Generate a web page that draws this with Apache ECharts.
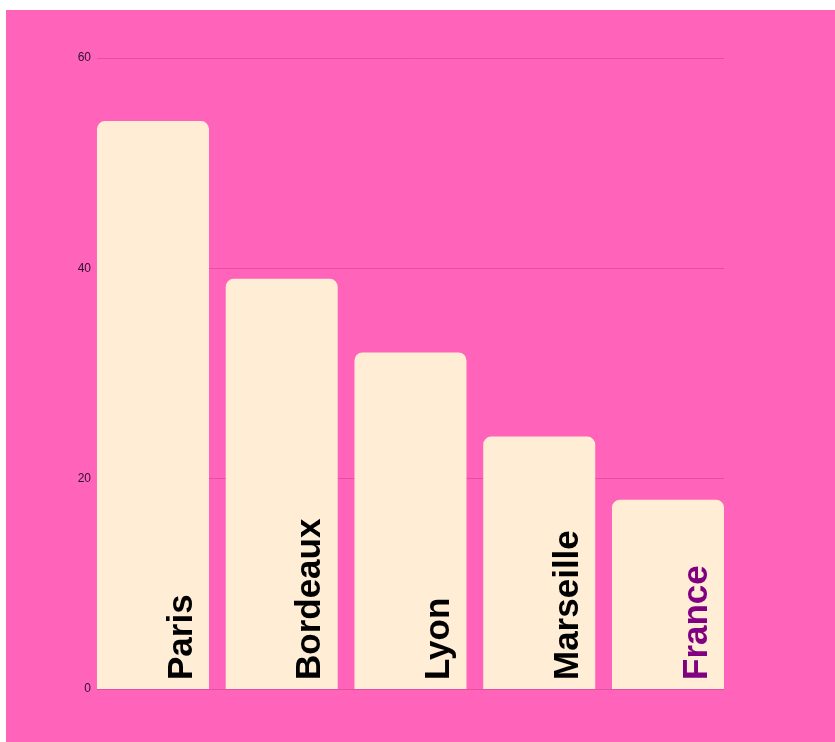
<!DOCTYPE html>
<html>
<head>
<meta charset="utf-8">
<script src="https://cdn.jsdelivr.net/npm/echarts@6/dist/echarts.min.js"></script>
<style>
html,body{margin:0;padding:0;background:#fff;}
#chart{position:absolute;left:6px;top:10px;width:829px;height:732px;}
</style>
</head>
<body>
<div id="chart"></div>
<script>
const categories = ['Paris', 'Bordeaux', 'Lyon', 'Marseille', 'France'];
const values = [54, 39, 32, 24, 18];
const labelColors = ['#000000', '#000000', '#000000', '#000000', '#800080'];
const yTicks = [0, 20, 40, 60];

const chart = echarts.init(document.getElementById('chart'));
chart.setOption({
  backgroundColor: '#FF63BA',
  animation: false,
  grid: [
    {left: 82.6, width: 643.75, top: 48, height: 631},
    {left: 91, width: 627, top: 48, height: 631}
  ],
  xAxis: [
    {type: 'category', gridIndex: 0, data: categories, show: false},
    {type: 'value', gridIndex: 1, show: false}
  ],
  yAxis: [
    {type: 'value', gridIndex: 0, min: 0, max: 60, show: false},
    {type: 'value', gridIndex: 1, min: yTicks[0], max: yTicks[yTicks.length - 1], interval: 20,
     axisLine: {show: false}, axisTick: {show: false},
     axisLabel: {color: '#2a1030', fontSize: 12, fontFamily: 'Liberation Sans, Arial, sans-serif', margin: 6},
     splitLine: {lineStyle: {color: 'rgba(120,0,60,0.2)', width: 1}}}
  ],
  series: [{
    type: 'bar',
    xAxisIndex: 0,
    yAxisIndex: 0,
    barWidth: 112,
    data: values.map((v, i) => ({
      value: v,
      label: {color: labelColors[i]}
    })),
    itemStyle: {color: '#FFEED5', borderRadius: [8, 8, 0, 0]},
    label: {
      show: true,
      formatter: (p) => categories[p.dataIndex],
      position: 'insideBottom',
      distance: 9,
      rotate: 90,
      align: 'left',
      verticalAlign: 'middle',
      offset: [0, 29],
      fontSize: 35,
      fontWeight: 'bold',
      fontFamily: 'Liberation Sans, Arial, sans-serif'
    }
  }]
});
</script>
</body>
</html>
